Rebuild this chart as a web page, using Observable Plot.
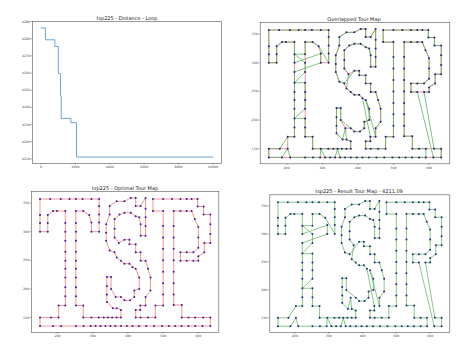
<!DOCTYPE html>
<html><head><meta charset="utf-8">
<script src="https://cdn.jsdelivr.net/npm/d3@7"></script>
<script src="https://cdn.jsdelivr.net/npm/@observablehq/plot@0.6"></script>
<style>
body{margin:0;background:#fff;}
#fig{position:relative;width:474px;height:353px;overflow:hidden;background:#fff;font-family:"DejaVu Sans",sans-serif;}
.panel{position:absolute;}
.title{position:absolute;font-size:5px;color:#222;transform:translate(-50%,-50%);white-space:nowrap;line-height:1;}
</style></head><body><div id="fig"></div>
<script>
// ---- distance per loop ----
const iterX = [0, 250, 800, 1000, 1130, 1170, 1730, 2060, 10000];
const distY = [4286.3, 4279.4, 4275.5, 4259.8, 4246.8, 4233.6, 4231.1, 4211.09, 4211.09];
const distTicksX = [0, 2000, 4000, 6000, 8000, 10000];
const distTicksY = [4210, 4220, 4230, 4240, 4250, 4260, 4270, 4280, 4290];

// ---- tour map ticks ----
const mapTicksX = [200, 300, 400, 500, 600];
const mapTicksY = [150, 200, 250, 300, 350];

// ---- optimal tour, in visiting order, split in parts ----
const baseRow = [[150,135],[187,135],[210,135],[252,135],[274,135],[294,135],[308,135],[322,135],[336,135],[350,135],[364,135],[380,135],[397,135],[413,135],[431,135],[452,135],[474,135],[497,135],[516,135],[534,135],[552,135],[572,135],[591,135],[612,135],[634,135]];
const pBase = [[634,150],[614,150],[591,150],[572,150],[553,150],[553,172]];
const pLetter = [[530,172],[530,190],[530,210],[530,230],[530,250],[530,270],[530,290],[530,310],[530,336],[549,336],[567,336],[581,336],[590,322],[600,308],[600,290],[600,272],[586,264],[567,264],[549,264],[549,249],[567,249],[586,249],[600,249],[600,257],[617,264],[617,280],[634,280],[634,296],[634,313],[634,330],[615,330],[615,344],[598,344],[598,357],[581,357],[567,357],[549,357],[525,357],[500,357],[471,357],[471,336],[500,336],[500,310],[500,290],[500,270],[500,250],[500,230],[500,210],[500,190],[500,171],[478,171]];
const sLetter = [[478,150],[457,150],[436,150],[422,150],[422,163],[435,163],[435,171],[450,171],[450,186],[464,197],[464,220],[457,235],[450,249],[436,249],[436,264],[422,264],[422,278],[404,278],[404,286],[390,286],[374,280],[362,290],[362,305],[362,322],[376,330],[390,333],[408,333],[422,327],[432,325],[436,313],[436,293],[450,293],[450,310],[450,325],[450,340],[450,359],[436,345],[422,345],[422,359],[408,359],[390,353],[368,353],[348,345],[348,330],[338,313],[338,298],[338,284],[348,267],[362,264],[368,255],[380,249],[390,244],[404,244],[413,238],[422,235],[432,220],[432,200],[418,197],[418,186],[406,180],[390,180],[380,186],[365,186],[352,200],[352,221],[340,221],[340,205],[340,190],[340,177],[357,166],[368,166],[380,163],[380,150]];
const tRow = [[368,150],[355,150],[343,150],[331,150],[317,150],[296,150],[273,150]];
const tLetter = [[273,171],[252,171],[252,187],[252,203],[252,220],[252,235],[252,249],[252,265],[252,284],[252,300],[252,315],[252,336],[273,336],[290,329],[296,316],[296,300],[318,300],[318,316],[318,330],[318,345],[318,357],[296,357],[271,357],[252,357],[234,357],[209,357],[179,357],[150,357],[150,329],[150,315],[150,300],[172,300],[172,315],[172,329],[187,336],[198,336],[222,336],[222,315],[222,300],[222,284],[222,265],[222,249],[222,235],[222,220],[222,203],[222,187],[222,171],[203,171],[203,150],[181,150],[150,150]];

// result tour: pieces of the optimal visiting order (a > b means walked backwards)
const resultPieces = [[0,1],[210,210],[2,5],[160,160],[6,8],[157,157],[9,22],[27,51],[23,26],[52,88],[135,131],[102,130],[101,89],[136,143],[145,151],[144,144],[152,156],[158,159],[161,165],[206,206],[166,169],[202,202],[170,171],[199,199],[172,175],[178,198],[200,200],[176,177],[201,201],[203,205],[207,209],[211,212]];

const optTour = [...baseRow, ...pBase, ...pLetter, ...sLetter, ...tRow, ...tLetter];
const cities = optTour.map(([x, y], i) => ({i, x, y}));
const optPath = [...cities, cities[0]];
const resPath = [];
for (const [a, b] of resultPieces) {
  if (a <= b) for (let k = a; k <= b; k++) resPath.push(cities[k]);
  else for (let k = a; k >= b; k--) resPath.push(cities[k]);
}
resPath.push(resPath[0]);

function padDomain(vals) {
  const lo = d3.min(vals), hi = d3.max(vals), p = (hi - lo) * 0.05;
  return [lo - p, hi + p];
}
const xDom = padDomain(cities.map(d => d.x));
const yDom = padDomain(cities.map(d => d.y));

const fig = document.getElementById("fig");
const FONT = "DejaVu Sans, sans-serif";

function place(svg, left, top) {
  const w = document.createElement("div");
  w.className = "panel";
  w.style.left = left + "px"; w.style.top = top + "px";
  w.appendChild(svg); fig.appendChild(w);
}
function title(text, cx, cy) {
  const t = document.createElement("div");
  t.className = "title"; t.textContent = text;
  t.style.left = cx + "px"; t.style.top = cy + "px";
  fig.appendChild(t);
}
function axes(xt, yt, xfmt, yfmt) {
  return [
    Plot.axisX({ticks: xt, tickSize: 1.5, tickPadding: 1, tickFormat: xfmt, label: null, fontSize: 3.2, stroke: "#444", fill: "#444", strokeWidth: 0.5}),
    Plot.axisY({ticks: yt, tickSize: 1.5, tickPadding: 1, tickFormat: yfmt, label: null, fontSize: 3.2, stroke: "#444", fill: "#444", strokeWidth: 0.5}),
    Plot.frame({stroke: "#555", strokeWidth: 0.6})
  ];
}

// ---- panel 1: distance loop ----
const distData = iterX.map((x, k) => ({x, y: distY[k]}));
const p1 = Plot.plot({
  width: 237, height: 176, marginLeft: 32, marginRight: 16, marginTop: 21, marginBottom: 13,
  style: {fontFamily: FONT, fontSize: "3.2px", color: "#444", background: "transparent"},
  x: {domain: padDomain(iterX)},
  y: {domain: padDomain(distY)},
  marks: [
    ...axes(distTicksX, distTicksY, d3.format("d"), d3.format("d")),
    Plot.line(distData, {x: "x", y: "y", curve: "step-after", stroke: "#5b9bd0", strokeWidth: 0.9})
  ]
});
place(p1, 0, 0);
title("tsp225 - Distance - Loop", 127, 18);

function mapPlot(w, h, ml, mr, mt, mb, marks) {
  return Plot.plot({
    width: w, height: h, marginLeft: ml, marginRight: mr, marginTop: mt, marginBottom: mb,
    style: {fontFamily: FONT, fontSize: "3.2px", color: "#444", background: "transparent"},
    x: {domain: xDom}, y: {domain: yDom},
    marks: [...axes(mapTicksX, mapTicksY, d3.format("d"), d3.format("d")), ...marks]
  });
}

// ---- panel 2: overlapped ----
const p2 = mapPlot(237, 176, 22.7, 24.7, 22, 12.7, [
  Plot.line(optPath, {x: "x", y: "y", stroke: "#f07878", strokeWidth: 0.8}),
  Plot.line(resPath, {x: "x", y: "y", stroke: "#5fb35f", strokeWidth: 0.8}),
  Plot.dot(cities, {x: "x", y: "y", r: 1.0, fill: "#1a237e", stroke: "none"})
]);
place(p2, 237, 0);
title("Overlapped Tour Map", 354, 18.5);

// ---- panel 3: optimal ----
const p3 = mapPlot(237, 177, 31, 18.7, 15, 21, [
  Plot.line(optPath, {x: "x", y: "y", stroke: "#f08a8a", strokeWidth: 0.9}),
  Plot.dot(cities, {x: "x", y: "y", r: 1.0, fill: "#3c1a9a", stroke: "none"})
]);
place(p3, 0, 176);
title("tsp225 - Optimal Tour Map", 125, 188);

// ---- panel 4: result ----
const p4 = mapPlot(237, 177, 32.3, 24.7, 18.3, 21, [
  Plot.line(resPath, {x: "x", y: "y", stroke: "#6cb86c", strokeWidth: 0.8}),
  Plot.dot(cities, {x: "x", y: "y", r: 1.0, fill: "#1a2f7a", stroke: "none"})
]);
place(p4, 237, 176);
title("tsp225 - Result Tour Map - 4211.09", 359, 191);
</script></body></html>
